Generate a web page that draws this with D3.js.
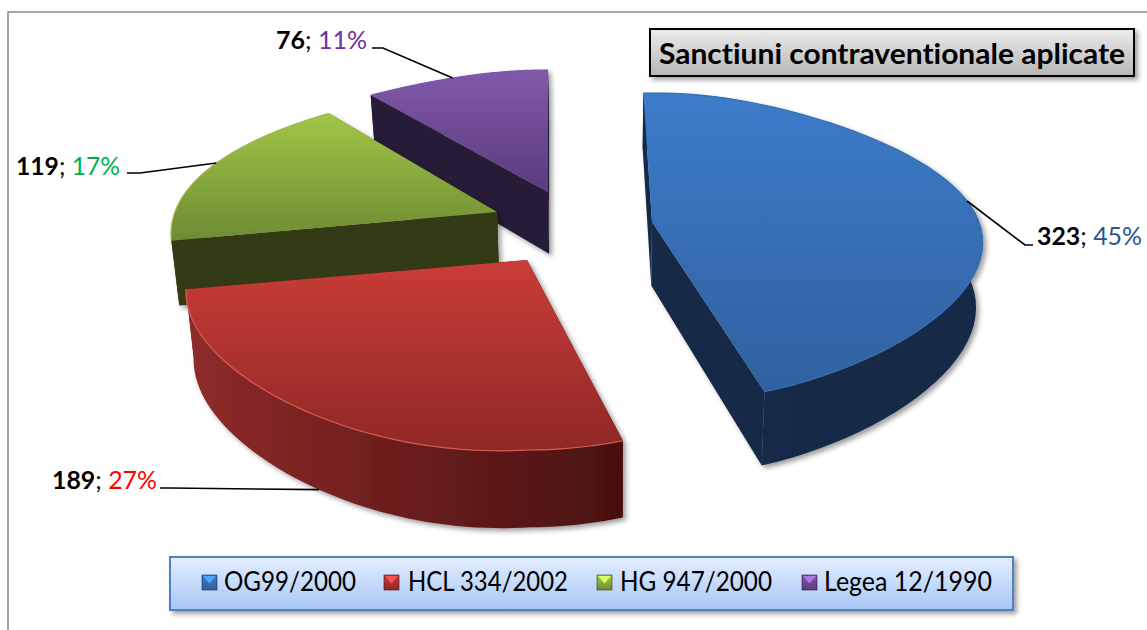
<!DOCTYPE html>
<html><head><meta charset="utf-8">
<script src="https://cdn.jsdelivr.net/npm/d3@7"></script>
<style>html,body{margin:0;background:#fff}svg{display:block}text{font-family:Lato,"Open Sans",sans-serif;font-variant-ligatures:none}</style>
</head><body><svg id="c" width="1147" height="630"></svg>
<script>
const categories=["OG99/2000","HCL 334/2002","HG 947/2000","Legea 12/1990"];
const values=[323,189,119,76];
const pctLabels=["45%","27%","17%","11%"];
const titleText="Sanctiuni contraventionale aplicate";

// styles and layout, per slice
const faceColors=[["#3c7cca","#2f619f"],["#ca3c38","#8e2826"],["#a1c647","#6e8b33"],["#8059aa","#5a3b7e"]];
const wallColors=[["#162b48","#162a46"],["#8f2b2a","#481010"],["#343c16","#323a15"],["#30233f","#281a37"]];
const edgeColors=["#3a6fb0","#dc5a54","#9dbb4c","#7c5aa6"];
const pctColors=["#2c5390","#ff0000","#00b050","#7030a0"];
const apex=[[652,222],[527,260],[497,212],[548,192]];
const rotation=[-.5,2,2,3];
const widthScale=[.985,1,.97,1.12];
const tiltA=[155,155,155,131];
const tiltB=[26,35,35,9];
const skew=[4.5,0,-17,0];
const bulge=[0,.1,0,0];
const labelPos=[[1037,245,105],[52,489,105],[16,175,104],[276,49,91]];
const leaderElbow=[[[1025,245],[1033,245]],[[170,488],[160,488]],[[140,173],[127,173]],[[383,48],[372,48]]];
const legendText=[[224,132],[408,160],[620,152],[824,168]];
const legendSwatch=[202,384,597,802];
const leaderAngle=[.52,.55,.5,.44];

const svg=d3.select("#c");
const defs=svg.append("defs");
function grad(id,x2,y2,a,b){const g=defs.append("linearGradient").attr("id",id).attr("x1",0).attr("y1",0).attr("x2",x2).attr("y2",y2);
 g.append("stop").attr("offset",0).attr("stop-color",a);g.append("stop").attr("offset",1).attr("stop-color",b);}
faceColors.forEach((c,i)=>grad("face"+i,0,1,c[0],c[1]));
wallColors.forEach((c,i)=>grad("wall"+i,1,0,c[0],c[1]));
grad("gTitle",0,1,"#ececec","#b6b6b6");
grad("gLegend",0,1,"#e4eefe","#a6c6f8");
const f=defs.append("filter").attr("id","sh").attr("x","-10%").attr("y","-10%").attr("width","125%").attr("height","125%");
f.append("feDropShadow").attr("dx",3).attr("dy",3).attr("stdDeviation",2.5).attr("flood-color","#000").attr("flood-opacity",.38);

// chart frame
svg.append("path").attr("d",d3.line()([[1147,12],[8,12],[8,630]])).attr("fill","none").attr("stroke","#8c8c8c").attr("stroke-width",1.6);

// projection of a tilted disc
function proj(theta,i){const t=theta+rotation[i]*Math.PI/180,u=Math.sin(t),v=-Math.cos(t);
 const sx=(332+58*v-55*v*v)*widthScale[i];
 const b=1+bulge[i]*Math.max(0,-u)*Math.max(0,v);
 return [apex[i][0]+u*sx*b+skew[i]*v*v,apex[i][1]+v*(tiltA[i]+tiltB[i]*v)*b];}
function down(p){return [610+(p[0]-610)*.982,p[1]+56+(p[1]-95)*.06];}

const pie=d3.pie().value(d=>d).sort(null).startAngle(-3*Math.PI/180).endAngle(357*Math.PI/180);
const arcs=pie(values);
const line=d3.line();
function arcPts(a,i){return d3.range(0,61).map(k=>proj(a.startAngle+(a.endAngle-a.startAngle)*k/60,i));}

[3,2,1,0].forEach(i=>{
 const a=arcs[i],top=arcPts(a,i),c=apex[i];
 const g=svg.append("g").attr("filter","url(#sh)");
 const s0=top[0],s1=top[60];
 const startWall=line([s0,c,down(c),down(s0)])+"Z",endWall=line([c,s1,down(s1),down(c)])+"Z";
 const startFront=s0[0]<c[0],endFront=s1[0]>c[0];
 const side=d=>g.append("path").attr("d",d).attr("fill",wallColors[i][1]);
 if(!startFront)side(startWall);
 if(!endFront)side(endWall);
 g.append("path").attr("d",line(top.concat(top.map(down).reverse()))+"Z").attr("fill","url(#wall"+i+")");
 if(startFront)side(startWall);
 if(endFront)side(endWall);
 g.append("path").attr("d",line([c].concat(top))+"Z").attr("fill","url(#face"+i+")");
 g.append("path").attr("d",line(top)).attr("fill","none").attr("stroke",edgeColors[i]).attr("stroke-width",1.2);
});

// leaders and labels
arcs.forEach((a,i)=>{
 let p=proj(a.startAngle+(a.endAngle-a.startAngle)*leaderAngle[i],i);
 if(i===1)p=down(p);
 svg.append("path").attr("d",line([p].concat(leaderElbow[i]))).attr("fill","none").attr("stroke","#000").attr("stroke-width",1.6);
 const t=svg.append("text").attr("x",labelPos[i][0]).attr("y",labelPos[i][1]).attr("font-size",25)
  .attr("textLength",labelPos[i][2]).attr("lengthAdjust","spacingAndGlyphs");
 t.append("tspan").attr("font-weight",700).attr("fill","#000").text(values[i]);
 t.append("tspan").attr("fill","#000").text("; ");
 t.append("tspan").attr("fill",pctColors[i]).text(pctLabels[i]);
});

// title
svg.append("rect").attr("x",650).attr("y",29).attr("width",484).attr("height",47).attr("fill","url(#gTitle)").attr("stroke","#000").attr("stroke-width",2).attr("filter","url(#sh)");
svg.append("text").attr("x",659).attr("y",64).attr("font-size",29).attr("font-weight",700).attr("fill","#000")
 .attr("textLength",466).attr("lengthAdjust","spacingAndGlyphs").text(titleText);

// legend
svg.append("rect").attr("x",170).attr("y",557).attr("width",843).attr("height",53).attr("fill","url(#gLegend)").attr("stroke","#4f81bd").attr("stroke-width",2).attr("filter","url(#sh)");
categories.forEach((c,i)=>{
 const x=legendSwatch[i],y=575,s=15;
 svg.append("rect").attr("x",x).attr("y",y).attr("width",s).attr("height",s).attr("fill","url(#face"+i+")").attr("stroke",wallColors[i][1]).attr("stroke-width",.6);
 svg.append("path").attr("d",line([[x+1,y+1],[x+s-1,y+1],[x+s/2,y+s/2+1]])+"Z").attr("fill",faceColors[i][0]).attr("style","filter:brightness(1.35)");
 svg.append("text").attr("x",legendText[i][0]).attr("y",591).attr("font-size",26).attr("fill","#000")
  .attr("textLength",legendText[i][1]).attr("lengthAdjust","spacingAndGlyphs").text(c);
});
</script></body></html>
